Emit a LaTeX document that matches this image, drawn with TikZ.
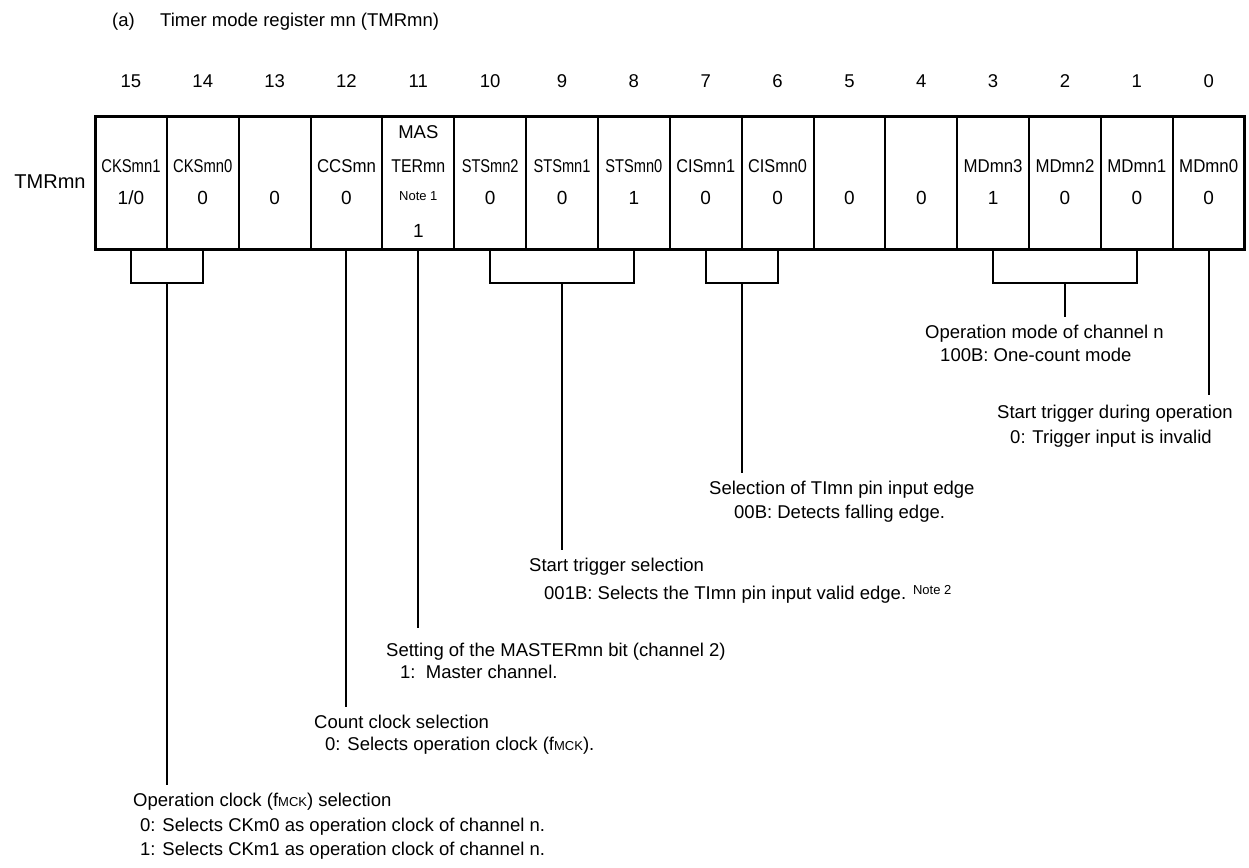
\documentclass[tikz,border=0pt]{standalone}
\usepackage{fontspec}
\setmainfont{Liberation Sans}
\usepackage{graphicx}
\usetikzlibrary{calc}
\newcommand{\fsz}[1]{\fontsize{#1}{#1}\selectfont}
\newcommand{\mck}{{\fsz{13}MCK}}
\newcommand{\cn}[2]{\scalebox{#1}[1]{#2}}
\begin{document}
\begin{tikzpicture}[x=1pt,y=-1pt,
  cell/.style={draw, line width=2pt, minimum width=71.85pt, minimum height=133pt, inner sep=0pt, outer sep=0pt},
  conn/.style={line width=2pt},
  txt/.style={font=\fsz{18.5}, inner sep=0pt, anchor=base west},
  ctr/.style={font=\fsz{18.5}, inner sep=0pt, anchor=base},
  note/.style={font=\fsz{13}, inner sep=0pt, anchor=base},
  val/.style={font=\fsz{19}, inner sep=0pt, anchor=base}]
\useasboundingbox (0,0) rectangle (1249,867);
\fill[white] (0,0) rectangle (1249,867);

% title
\node[txt] (ta) at (112,26.5) {(a)};
\node[txt] (tb) at (160,26.5) {Timer mode register mn (TMRmn)};

% cells
\foreach \b in {0,...,15} {
  \node[cell] (c\b) at ({130.925+71.85*(15-\b)},182.5) {};
  \node[ctr] (n\b) at ({130.925+71.85*(15-\b)},87) {\b};
}
\draw[line width=3pt] (c15.north west) rectangle (c0.south east);
\node[font=\fsz{20}, inner sep=0pt, anchor=base] (reg) at (50,188) {TMRmn};

% names
\node[ctr] (l15) at ($(c15)+(0,-10)$) {\cn{0.8}{CKSmn1}};
\node[ctr] (l14) at ($(c14)+(0,-10)$) {\cn{0.8}{CKSmn0}};
\node[ctr] (l12) at ($(c12)+(0,-10)$) {\cn{0.91}{CCSmn}};
\node[ctr] (l11a) at ($(c11)+(0,-44.5)$) {MAS};
\node[ctr] (l11) at ($(c11)+(0,-10)$) {\cn{0.86}{TERmn}};
\node[note] (l11n) at ($(c11)+(0,17.5)$) {Note 1};
\node[ctr] (l10) at ($(c10)+(0,-10)$) {\cn{0.79}{STSmn2}};
\node[ctr] (l9) at ($(c9)+(0,-10)$) {\cn{0.79}{STSmn1}};
\node[ctr] (l8) at ($(c8)+(0,-10)$) {\cn{0.79}{STSmn0}};
\node[ctr] (l7) at ($(c7)+(0,-10)$) {\cn{0.88}{CISmn1}};
\node[ctr] (l6) at ($(c6)+(0,-10)$) {\cn{0.88}{CISmn0}};
\node[ctr] (l3) at ($(c3)+(0,-10)$) {\cn{0.91}{MDmn3}};
\node[ctr] (l2) at ($(c2)+(0,-10)$) {\cn{0.91}{MDmn2}};
\node[ctr] (l1) at ($(c1)+(0,-10)$) {\cn{0.91}{MDmn1}};
\node[ctr] (l0) at ($(c0)+(0,-10)$) {\cn{0.91}{MDmn0}};

% values
\node[val] (v15) at ($(c15)+(0,21.5)$) {1/0};
\node[val] (v14) at ($(c14)+(0,21.5)$) {0};
\node[val] (v13) at ($(c13)+(0,21.5)$) {0};
\node[val] (v12) at ($(c12)+(0,21.5)$) {0};
\node[val] (v11) at ($(c11)+(0,54.5)$) {1};
\node[val] (v10) at ($(c10)+(0,21.5)$) {0};
\node[val] (v9) at ($(c9)+(0,21.5)$) {0};
\node[val] (v8) at ($(c8)+(0,21.5)$) {1};
\node[val] (v7) at ($(c7)+(0,21.5)$) {0};
\node[val] (v6) at ($(c6)+(0,21.5)$) {0};
\node[val] (v5) at ($(c5)+(0,21.5)$) {0};
\node[val] (v4) at ($(c4)+(0,21.5)$) {0};
\node[val] (v3) at ($(c3)+(0,21.5)$) {1};
\node[val] (v2) at ($(c2)+(0,21.5)$) {0};
\node[val] (v1) at ($(c1)+(0,21.5)$) {0};
\node[val] (v0) at ($(c0)+(0,21.5)$) {0};

% brackets and leader lines
\draw[conn] (c15.south) -- ++(0,34) -| (c14.south);
\coordinate (bk1) at ($(c15.south)!.5!(c14.south)+(0,34)$);
\coordinate (ek1) at (bk1 |- 0,785);
\draw[conn] (bk1) -- (ek1);

\coordinate (ek2) at (c12.south |- 0,707);
\draw[conn] (c12.south) -- (ek2);

\coordinate (ek3) at (c11.south |- 0,628);
\draw[conn] (c11.south) -- (ek3);

\draw[conn] (c10.south) -- ++(0,34) -| (c8.south);
\coordinate (bk4) at ($(c9.south)+(0,34)$);
\coordinate (ek4) at (bk4 |- 0,550);
\draw[conn] (bk4) -- (ek4);

\draw[conn] (c7.south) -- ++(0,34) -| (c6.south);
\coordinate (bk5) at ($(c7.south)!.5!(c6.south)+(0,34)$);
\coordinate (ek5) at (bk5 |- 0,473);
\draw[conn] (bk5) -- (ek5);

\draw[conn] (c3.south) -- ++(0,34) -| (c1.south);
\coordinate (bk6) at ($(c2.south)+(0,34)$);
\coordinate (ek6) at (bk6 |- 0,317);
\draw[conn] (bk6) -- (ek6);

\coordinate (ek7) at (c0.south |- 0,395);
\draw[conn] (c0.south) -- (ek7);

% descriptions
\node[txt] (d6a) at (925,338.6) {Operation mode of channel n};
\node[txt] (d6b) at (940,361.6) {100B: One-count mode};
\node[txt] (d7a) at (997,418.6) {Start trigger during operation};
\node[txt] (d7b) at (1010,443.6) {0: Trigger input is invalid};
\node[txt] (d5a) at (709,494.6) {Selection of TImn pin input edge};
\node[txt] (d5b) at (734,518.6) {00B: Detects falling edge.};
\node[txt] (d4a) at (529,571.6) {Start trigger selection};
\node[txt] (d4b) at (544,599.6) {001B: Selects the TImn pin input valid edge. \raisebox{5pt}{\fsz{13}Note 2}};
\node[txt] (d3a) at (386,656.6) {Setting of the MASTERmn bit (channel 2)};
\node[txt] (d3b) at (400,678.6) {1:\ \ Master channel.};
\node[txt] (d2a) at (314,728.6) {Count clock selection};
\node[txt] (d2b) at (325,750.6) {0: Selects operation clock (f\mck).};
\node[txt] (d1a) at (133,806.6) {Operation clock (f\mck) selection};
\node[txt] (d1b) at (140,831.6) {0: Selects CKm0 as operation clock of channel n.};
\node[txt] (d1c) at (140,855.6) {1: Selects CKm1 as operation clock of channel n.};
\end{tikzpicture}
\end{document}
